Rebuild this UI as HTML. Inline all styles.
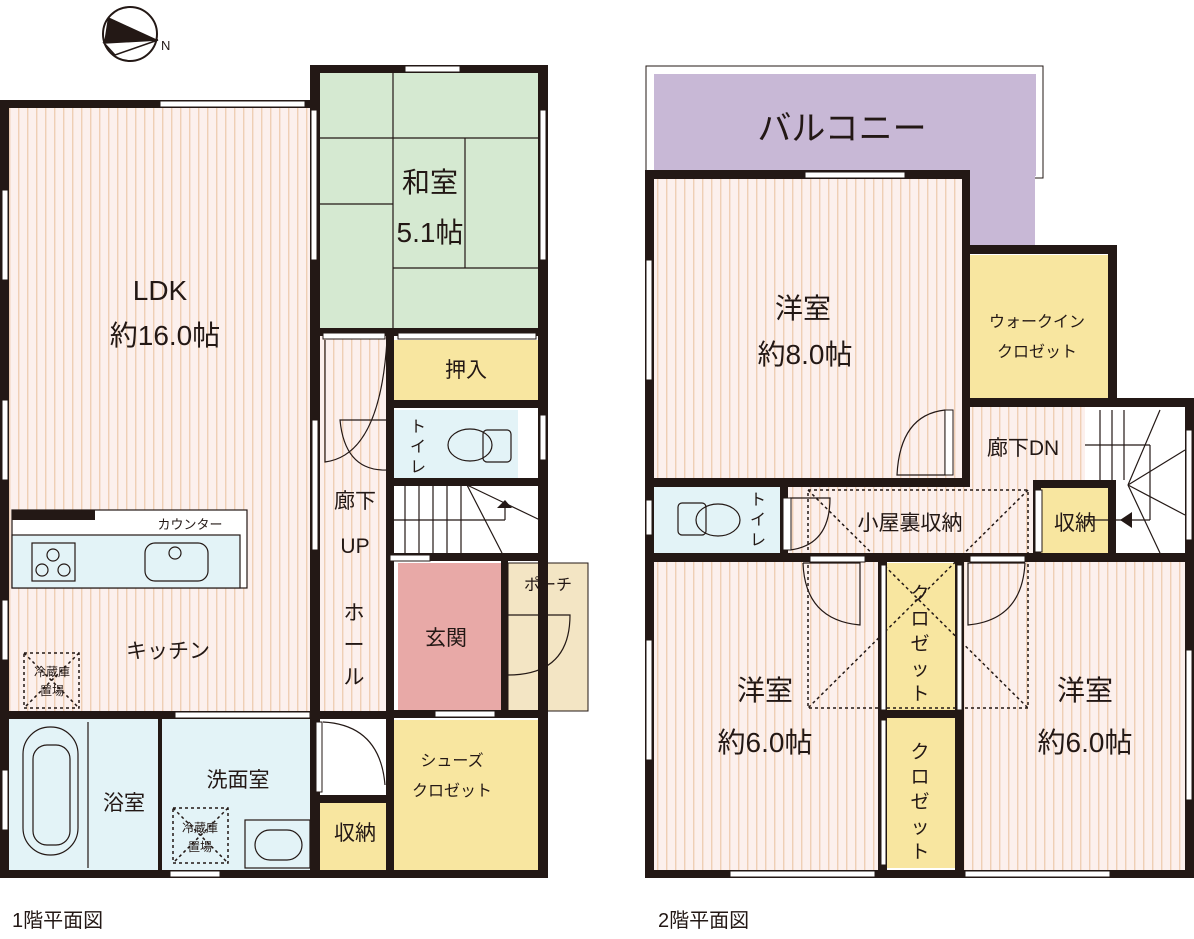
<!DOCTYPE html>
<html><head><meta charset="utf-8"><style>
html,body{margin:0;padding:0;background:#fff;width:1194px;height:939px;overflow:hidden}
text{font-family:"Liberation Sans","Noto Sans CJK JP",sans-serif;fill:#231815}
</style></head><body>
<svg width="1194" height="939" viewBox="0 0 1194 939" xmlns="http://www.w3.org/2000/svg">
<defs>
<pattern id="st" width="9" height="10" patternUnits="userSpaceOnUse">
<rect width="9" height="10" fill="#fcf0ed"/><rect x="0" width="1.4" height="10" fill="#efcfb5"/>
</pattern>
</defs>
<g stroke="none">
<rect x="8" y="104" width="305" height="610" fill="url(#st)"/>
<rect x="318" y="72" width="225" height="258" fill="#d5e9d1"/>
<rect x="318" y="333" width="72" height="385" fill="url(#st)"/>
<rect x="393" y="340" width="147" height="60" fill="#f8e6a0"/>
<rect x="393" y="410" width="125" height="68" fill="#e3f3f7"/>
<rect x="390" y="485" width="148" height="70" fill="#fff"/>
<rect x="398" y="563" width="103" height="147" fill="#e8a9a7"/>
<rect x="508" y="563" width="80" height="148" fill="#f3e5c4" stroke="#231815" stroke-width="1"/>
<rect x="393" y="720" width="150" height="150" fill="#f8e6a0"/>
<rect x="8" y="718" width="305" height="152" fill="#e3f3f7"/>
<rect x="318" y="803" width="75" height="67" fill="#f8e6a0"/>
<rect x="646" y="66" width="397" height="112" fill="#fff" stroke="#231815" stroke-width="1"/>
<rect x="654" y="74" width="382" height="102" fill="#c8b8d6"/>
<rect x="965" y="170" width="70" height="78" fill="#c8b8d6"/>
<rect x="652" y="176" width="312" height="305" fill="url(#st)"/>
<rect x="965" y="255" width="145" height="143" fill="#f8e6a0"/>
<rect x="965" y="405" width="125" height="80" fill="url(#st)"/>
<rect x="1085" y="405" width="100" height="150" fill="#fff"/>
<rect x="652" y="485" width="135" height="68" fill="#e3f3f7"/>
<rect x="787" y="485" width="253" height="68" fill="url(#st)"/>
<rect x="1040" y="485" width="70" height="68" fill="#f8e6a0"/>
<rect x="652" y="560" width="232" height="310" fill="url(#st)"/>
<rect x="960" y="560" width="228" height="310" fill="url(#st)"/>
<rect x="887" y="563" width="68" height="148" fill="#f8e6a0"/>
<rect x="887" y="718" width="68" height="150" fill="#f8e6a0"/>
</g>
<g stroke="#231815" stroke-width="1.2" fill="none">
<line x1="393" y1="72" x2="393" y2="330"/><line x1="318" y1="138" x2="543" y2="138"/>
<line x1="318" y1="204" x2="393" y2="204"/><line x1="393" y1="268" x2="543" y2="268"/>
<line x1="465" y1="138" x2="465" y2="268"/>
<line x1="405" y1="485" x2="405" y2="555"/><line x1="419" y1="485" x2="419" y2="555"/><line x1="433" y1="485" x2="433" y2="555"/><line x1="447" y1="485" x2="447" y2="555"/><line x1="461" y1="485" x2="461" y2="555"/>
<line x1="390" y1="520" x2="505" y2="520"/><line x1="505" y1="505" x2="505" y2="520"/>
<line x1="467" y1="485" x2="540" y2="520"/><line x1="467" y1="485" x2="502" y2="553"/>
<line x1="1100" y1="410" x2="1100" y2="480"/><line x1="1112" y1="410" x2="1112" y2="480"/><line x1="1124" y1="410" x2="1124" y2="480"/>
<line x1="1085" y1="445" x2="1150" y2="445"/><line x1="1150" y1="445" x2="1150" y2="520"/><line x1="1085" y1="520" x2="1150" y2="520"/>
<line x1="1128" y1="485" x2="1160" y2="410"/><line x1="1128" y1="485" x2="1185" y2="450"/><line x1="1128" y1="485" x2="1185" y2="515"/><line x1="1128" y1="485" x2="1160" y2="553"/>
<path d="M325 340 V462 Q380 455 387 340"/>
<path d="M388 420 H340 Q345 472 388 470"/>
<path d="M945 410 V475 H897 Q900 415 945 410"/>
<path d="M790 498 H830 Q830 545 790 550"/>
<path d="M323 722 Q380 725 385 785"/>
<path d="M508 615 H570 Q570 675 508 675"/>
<path d="M803 563 H860 V625 Q805 620 803 563"/>
<path d="M1025 563 H968 V625 Q1022 620 1025 563"/>
<rect x="12" y="510" width="235" height="78" fill="#fff"/>
<rect x="12" y="535" width="228" height="53" fill="#e3f3f7"/>
<rect x="32" y="543" width="43" height="38"/><circle cx="53" cy="555" r="6"/><circle cx="42" cy="570" r="6"/><circle cx="64" cy="570" r="6"/>
<rect x="145" y="543" width="63" height="38" rx="10"/><circle cx="175" cy="553" r="6"/>
<rect x="23" y="727" width="55" height="128" rx="27"/><rect x="33" y="745" width="37" height="100" rx="14"/>
<line x1="88" y1="722" x2="88" y2="868"/>
<rect x="245" y="820" width="65" height="48"/><rect x="255" y="830" width="47" height="30" rx="15"/>
<ellipse cx="470" cy="445" rx="22" ry="16"/><rect x="483" y="430" width="28" height="32" rx="4"/>
<ellipse cx="718" cy="520" rx="22" ry="16"/><rect x="678" y="503" width="28" height="32" rx="4"/>
</g>
<rect x="12" y="510" width="83" height="10" fill="#231815"/>
<g stroke="#231815" stroke-width="1.5" stroke-dasharray="3,3" fill="none">
<rect x="24" y="653" width="55" height="55"/><line x1="24" y1="653" x2="79" y2="708"/><line x1="79" y1="653" x2="24" y2="708"/>
<rect x="173" y="808" width="55" height="55"/><line x1="173" y1="808" x2="228" y2="863"/><line x1="228" y1="808" x2="173" y2="863"/>
<rect x="808" y="490" width="220" height="218"/><line x1="808" y1="490" x2="1028" y2="708"/><line x1="1028" y1="490" x2="808" y2="708"/>
</g>
<polygon points="497,508 512,508 505,500" fill="#231815"/>
<polygon points="1120,520 1132,512 1132,528" fill="#231815"/>
<g fill="#231815">
<rect x="0" y="100" width="313" height="8"/><rect x="0" y="100" width="9" height="778"/>
<rect x="310" y="65" width="10" height="813"/><rect x="310" y="65" width="238" height="8"/>
<rect x="538" y="65" width="10" height="813"/><rect x="0" y="870" width="548" height="8"/>
<rect x="0" y="711" width="393" height="8"/><rect x="386" y="330" width="8" height="548"/>
<rect x="318" y="328" width="228" height="8"/><rect x="390" y="400" width="155" height="8"/>
<rect x="390" y="478" width="155" height="8"/><rect x="390" y="553" width="155" height="8"/>
<rect x="390" y="710" width="155" height="8"/><rect x="313" y="795" width="80" height="8"/>
<rect x="158" y="718" width="4" height="152"/>
<rect x="501" y="560" width="7" height="155"/>
</g>
<g fill="#231815">
<rect x="645" y="170" width="325" height="9"/><rect x="645" y="170" width="9" height="708"/>
<rect x="962" y="170" width="8" height="80"/><rect x="962" y="245" width="155" height="9"/>
<rect x="1108" y="245" width="9" height="158"/><rect x="962" y="245" width="8" height="235"/>
<rect x="962" y="398" width="232" height="9"/><rect x="1185" y="398" width="9" height="480"/>
<rect x="645" y="478" width="325" height="9"/><rect x="1033" y="480" width="80" height="8"/>
<rect x="645" y="553" width="549" height="9"/><rect x="645" y="870" width="549" height="8"/>
<rect x="780" y="485" width="8" height="70"/><rect x="1033" y="480" width="8" height="75"/>
<rect x="1108" y="480" width="8" height="75"/>
<rect x="878" y="555" width="9" height="320"/><rect x="955" y="555" width="9" height="320"/>
<rect x="880" y="710" width="80" height="8"/>
</g>
<g fill="#fff" stroke="#231815" stroke-width="1">
<rect x="160" y="101" width="145" height="6"/><rect x="405" y="66" width="55" height="6"/>
<rect x="2" y="190" width="6" height="90"/><rect x="2" y="400" width="6" height="80"/><rect x="2" y="600" width="6" height="60"/><rect x="2" y="770" width="6" height="60"/>
<rect x="540" y="110" width="6" height="150"/><rect x="311" y="110" width="6" height="150"/>
<rect x="540" y="415" width="6" height="45"/><rect x="312" y="420" width="6" height="130"/>
<rect x="170" y="871" width="50" height="6"/><rect x="323" y="333" width="62" height="6"/><rect x="398" y="333" width="138" height="6"/>
<rect x="175" y="712" width="135" height="6"/><rect x="435" y="711" width="60" height="6"/>
<rect x="390" y="555" width="40" height="6"/>
<rect x="805" y="172" width="100" height="6"/><rect x="646" y="260" width="6" height="120"/><rect x="646" y="640" width="6" height="120"/>
<rect x="646" y="500" width="6" height="35"/><rect x="1186" y="430" width="6" height="110"/><rect x="1186" y="650" width="6" height="150"/>
<rect x="730" y="871" width="145" height="6"/><rect x="965" y="871" width="145" height="6"/>
<rect x="945" y="410" width="8" height="65"/><rect x="783" y="498" width="8" height="52"/>
<rect x="1035" y="490" width="7" height="62"/><rect x="316" y="722" width="6" height="70"/>
<rect x="810" y="556" width="55" height="6"/><rect x="970" y="556" width="55" height="6"/>
<rect x="881" y="565" width="5" height="145"/><rect x="957" y="565" width="5" height="145"/>
<rect x="881" y="720" width="5" height="145"/>
</g>
<circle cx="130" cy="34" r="27" fill="#fff" stroke="#231815" stroke-width="2"/>
<polygon points="108,17 158,40 104,43" fill="#231815"/>
<polygon points="104,43 158,40 115,55" fill="#fff" stroke="#231815" stroke-width="1.5"/>
<text x="161" y="50" font-size="13">N</text>
<g font-size="28" text-anchor="middle">
<text x="160" y="300">LDK</text><text x="165" y="345">約16.0帖</text>
<text x="430" y="192">和室</text><text x="430" y="242">5.1帖</text>
<text x="803" y="318">洋室</text><text x="805" y="364">約8.0帖</text>
<text x="765" y="700">洋室</text><text x="765" y="752">約6.0帖</text>
<text x="1085" y="700">洋室</text><text x="1085" y="752">約6.0帖</text>
<text x="842" y="140" font-size="34">バルコニー</text>
</g>
<g font-size="21" text-anchor="middle">
<text x="466" y="377">押入</text><text x="355" y="508">廊下</text><text x="355" y="553">UP</text>
<text x="354" y="620">ホ</text><text x="354" y="652">ー</text><text x="354" y="684">ル</text>
<text x="446" y="645">玄関</text><text x="168" y="658">キッチン</text>
<text x="124" y="810">浴室</text><text x="238" y="787">洗面室</text><text x="355" y="840">収納</text>
<text x="1023" y="455">廊下DN</text><text x="910" y="530">小屋裏収納</text><text x="1075" y="530">収納</text>
</g>
<g font-size="16" text-anchor="middle">
<text x="548" y="590">ポーチ</text><text x="452" y="766">シューズ</text><text x="452" y="796">クロゼット</text>
<text x="1037" y="327">ウォークイン</text><text x="1037" y="357">クロゼット</text>
<text x="190" y="529" font-size="13">カウンター</text>
<text x="418" y="432">ト</text><text x="418" y="452">イ</text><text x="418" y="472">レ</text>
<text x="758" y="505">ト</text><text x="758" y="525">イ</text><text x="758" y="545">レ</text>
<text x="920" y="600" font-size="19">ク</text><text x="920" y="625" font-size="19">ロ</text><text x="920" y="650" font-size="19">ゼ</text><text x="920" y="675" font-size="19">ッ</text><text x="920" y="700" font-size="19">ト</text>
<text x="920" y="758" font-size="19">ク</text><text x="920" y="783" font-size="19">ロ</text><text x="920" y="808" font-size="19">ゼ</text><text x="920" y="833" font-size="19">ッ</text><text x="920" y="858" font-size="19">ト</text>
<text x="52" y="676" font-size="12">冷蔵庫</text><text x="52" y="695" font-size="12">置場</text>
<text x="200" y="832" font-size="12">冷蔵庫</text><text x="200" y="851" font-size="12">置場</text>
</g>
<text x="12" y="927" font-size="20">1階平面図</text>
<text x="658" y="927" font-size="20">2階平面図</text>
</svg>
</body></html>
